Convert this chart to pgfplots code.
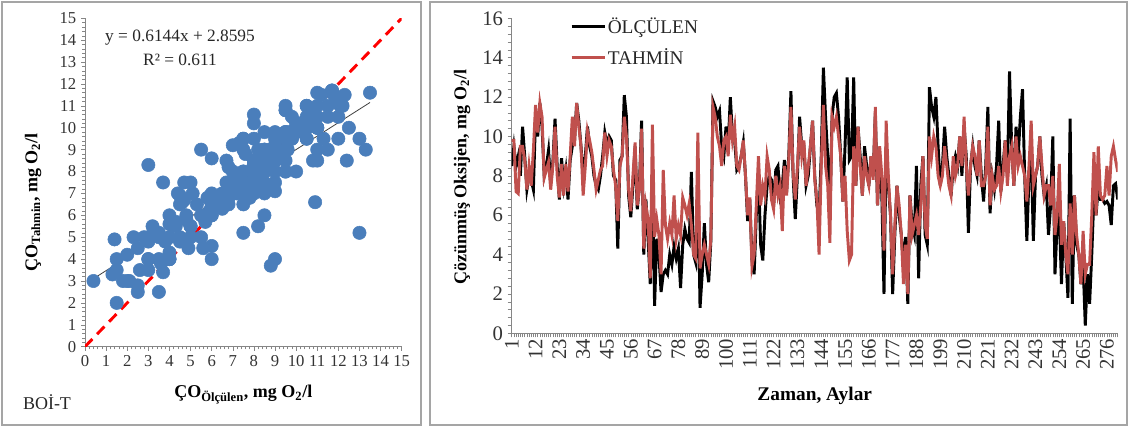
\documentclass[border=0pt]{standalone}
\usepackage{fontspec}
\setmainfont{Liberation Serif}
\usepackage{pgfplots}
\usepackage{pgfplotstable}
\pgfplotsset{compat=1.18}
\definecolor{ptblue}{RGB}{74,126,187}
\definecolor{tred}{RGB}{192,80,77}
\definecolor{axgray}{RGB}{134,134,134}
\definecolor{framegray}{RGB}{165,165,165}
\pgfkeys{/pgf/number format/assume math mode=true}

\pgfplotstableread{
m obs pred
1 8.5 9.8
2 9.5 9.8
3 8.5 7.2
4 9.0 7.1
5 8.0 9.5
6 10.5 9.5
7 9.0 8.8
8 7.3 7.3
9 8.0 8.5
10 7.8 7.5
11 7.3 9.3
12 11.0 11.6
13 10.0 10.2
14 11.7 11.7
15 10.5 11.0
16 8.0 7.9
17 8.5 8.3
18 9.3 8.7
19 7.6 7.3
20 8.7 8.5
21 10.9 10.5
22 8.5 8.0
23 6.8 6.9
24 8.9 8.6
25 7.5 7.0
26 8.3 8.6
27 6.8 7.2
28 8.8 9.0
29 9.5 11.0
30 9.8 9.5
31 11.7 11.7
32 10.8 10.5
33 9.5 9.5
34 8.0 7.0
35 9.0 8.5
36 10.5 10.3
37 9.5 9.8
38 9.0 9.2
39 8.0 8.3
40 7.5 7.3
41 7.3 7.8
42 8.0 8.3
43 9.0 8.5
44 10.2 10.2
45 9.6 9.0
46 10.0 9.8
47 9.8 9.5
48 8.0 8.3
49 7.8 7.5
50 4.3 5.7
51 8.8 8.5
52 9.0 9.0
53 12.1 11.0
54 11.0 10.0
55 7.0 7.3
56 5.9 6.2
57 7.5 8.0
58 9.5 9.7
59 6.3 6.5
60 7.5 7.3
61 10.8 10.4
62 4.0 4.3
63 6.8 6.5
64 4.8 5.8
65 2.5 2.8
66 8.0 10.6
67 1.4 4.9
68 4.8 5.8
69 4.0 5.0
70 2.1 3.0
71 3.0 8.3
72 3.2 5.5
73 3.0 4.8
74 4.0 5.6
75 3.5 5.0
76 4.4 7.0
77 3.8 4.8
78 4.3 5.5
79 2.3 5.0
80 4.5 6.9
81 5.3 6.5
82 4.8 6.0
83 4.6 6.6
84 8.2 5.5
85 4.0 4.0
86 3.6 3.8
87 8.0 10.2
88 1.3 3.3
89 3.0 4.0
90 5.6 4.5
91 3.5 4.0
92 2.6 3.5
93 4.7 4.8
94 11.8 11.5
95 11.5 11.0
96 11.0 10.0
97 11.3 9.5
98 9.5 8.5
99 9.0 9.8
100 10.5 10.0
101 9.5 9.0
102 12.0 11.1
103 10.0 9.8
104 9.8 10.5
105 8.3 8.5
106 8.5 8.3
107 9.0 9.0
108 9.7 9.8
109 8.0 8.0
110 5.7 6.0
111 6.8 6.9
112 3.7 3.4
113 3.0 4.0
114 6.0 6.5
115 8.2 9.0
116 4.5 6.5
117 3.7 7.5
118 6.0 7.0
119 7.5 9.0
120 8.0 8.3
121 7.8 6.8
122 6.5 6.3
123 8.3 8.0
124 8.5 7.0
125 7.0 7.5
126 7.5 5.2
127 8.8 8.5
128 7.2 7.0
129 9.0 8.8
130 12.3 11.5
131 8.0 8.2
132 5.8 6.8
133 8.0 8.5
134 11.0 10.5
135 9.5 9.0
136 9.5 9.8
137 7.5 7.5
138 8.0 8.5
139 9.5 9.5
140 10.8 10.8
141 8.0 7.8
142 6.5 6.8
143 6.0 4.0
144 9.0 8.5
145 13.5 11.6
146 11.0 8.5
147 9.0 7.5
148 6.0 4.6
149 11.0 11.0
150 12.0 10.5
151 12.2 11.0
152 11.0 10.0
153 9.0 9.0
154 6.7 6.7
155 9.5 8.0
156 13.0 5.2
157 8.8 3.7
158 9.0 4.0
159 13.0 9.5
160 7.5 7.5
161 10.5 10.5
162 9.0 8.5
163 7.0 7.0
164 9.5 9.0
165 8.5 8.0
166 7.5 7.5
167 9.0 9.0
168 8.0 7.8
169 11.2 11.5
170 6.5 6.5
171 9.0 9.5
172 7.0 8.0
173 2.0 4.2
174 9.5 10.8
175 7.5 8.0
176 6.0 6.0
177 2.0 3.0
178 5.0 5.5
179 7.5 7.5
180 6.0 6.5
181 5.0 5.0
182 3.5 2.5
183 4.9 4.5
184 1.5 2.0
185 7.0 7.0
186 5.5 5.0
187 5.0 5.5
188 8.5 6.0
189 2.8 5.0
190 7.5 6.5
191 9.0 9.0
192 5.0 5.5
193 4.5 4.8
194 12.5 10.0
195 11.5 9.0
196 11.0 10.0
197 12.0 9.5
198 9.5 8.0
199 7.5 7.5
200 8.5 8.0
201 10.5 9.5
202 9.0 8.5
203 8.0 7.5
204 7.0 7.0
205 8.5 9.0
206 9.0 8.0
207 8.5 8.5
208 10.0 10.0
209 8.0 8.5
210 10.5 11.0
211 9.0 8.5
212 5.1 7.0
213 8.5 8.5
214 9.5 9.5
215 8.5 9.0
216 8.0 8.0
217 9.8 9.8
218 8.0 7.5
219 6.7 7.5
220 8.5 8.0
221 11.5 10.5
222 6.1 6.5
223 8.0 8.0
224 7.3 7.3
225 8.5 7.5
226 10.8 8.5
227 7.2 7.2
228 8.5 8.0
229 9.8 9.8
230 8.0 7.5
231 13.3 9.0
232 9.5 9.5
233 7.5 7.5
234 10.5 10.0
235 9.0 8.5
236 11.0 9.0
237 12.4 8.5
238 8.0 8.0
239 4.7 6.7
240 8.0 8.5
241 9.5 10.8
242 4.7 7.5
243 8.0 8.0
244 8.5 8.5
245 10.0 10.0
246 8.0 8.5
247 7.0 7.0
248 7.5 7.5
249 5.0 7.5
250 6.5 6.5
251 10.0 8.0
252 3.0 5.0
253 5.5 6.0
254 6.0 8.6
255 2.5 4.5
256 5.7 5.7
257 4.0 4.0
258 1.8 3.0
259 10.9 6.6
260 1.5 4.0
261 7.0 7.0
262 4.5 5.0
263 4.0 4.0
264 2.5 2.5
265 3.5 5.2
266 0.4 3.0
267 3.0 3.5
268 1.5 3.5
269 4.0 6.0
270 7.0 9.2
271 6.0 6.0
272 7.5 9.5
273 6.8 7.0
274 6.8 6.8
275 6.6 7.0
276 6.7 8.5
277 6.5 7.0
278 5.5 9.0
279 7.5 9.5
280 7.6 8.8
281 6.8 8.2
}\dotable

\begin{document}
\begin{tikzpicture}
\path[use as bounding box] (0pt,0pt) rectangle (847.5pt,-322.5pt);
\draw[framegray, line width=0.9pt] (1.5pt,-1.5pt) rectangle (315.75pt,-318.75pt);
\draw[framegray, line width=0.9pt] (322.5pt,-1.5pt) rectangle (845.25pt,-318.75pt);

% ---------------- left: scatter ----------------
\begin{axis}[
  at={(63.75pt,-260pt)}, anchor=south west,
  scale only axis, width=237.5pt, height=246.3pt,
  xmin=0, xmax=15, ymin=0, ymax=15,
  xtick distance=1, ytick distance=1,
  minor x tick num=4, minor y tick num=4,
  axis lines*=left,
  axis line style={axgray, line width=0.6pt},
  tick style={axgray, line width=0.4pt},
  tick align=outside,
  major tick length=3pt, minor tick length=2pt,
  ticklabel style={font=\fontsize{12.5}{14}\selectfont, text=black!80},
  xticklabel style={inner xsep=0pt},
  xlabel={\bfseries ÇO\textsubscript{Ölçülen}, mg O\textsubscript{2}/l},
  ylabel={\bfseries ÇO\textsubscript{Tahmin}, mg O\textsubscript{2}/l},
  xlabel style={font=\fontsize{13.5}{15}\selectfont, at={(axis description cs:0.5,-0.146)}, anchor=center},
  ylabel style={font=\fontsize{13.5}{15}\selectfont, at={(axis description cs:-0.164,0.44)}, anchor=center},
]
\addplot[red, line width=2.2pt, dash pattern=on 8pt off 5pt] coordinates {(0,0) (15,15)};
\addplot[only marks, mark=*, mark size=5pt, mark options={fill=ptblue, draw=ptblue}] table[x=obs, y=pred] {\dotable};
\addplot[black!75, line width=0.6pt] coordinates {(0.3,3.044) (13.5,11.154)};
\end{axis}
\node[font=\fontsize{13}{15}\selectfont, text=black!85] at (135pt,-28.5pt) {y = 0.6144x + 2.8595};
\node[font=\fontsize{13}{15}\selectfont, text=black!85] at (135pt,-45pt) {R² = 0.611};
\node[font=\fontsize{13.5}{15}\selectfont, text=black!85] at (35.25pt,-301.5pt) {BOİ-T};

% ---------------- right: time series ----------------
\begin{axis}[
  at={(383.8pt,-250pt)}, anchor=south west,
  scale only axis, width=454.5pt, height=236.25pt,
  xmin=1, xmax=281, ymin=0, ymax=16,
  ytick distance=2, minor y tick num=4,
  xtick={1,12,...,276}, minor xtick={1,...,281},
  axis lines*=left,
  axis line style={axgray, line width=0.6pt},
  tick style={axgray, line width=0.4pt},
  tick align=outside,
  major tick length=3pt, minor tick length=3pt,
  ticklabel style={font=\fontsize{15.5}{17}\selectfont, text=black!80},
  x tick label style={rotate=90, anchor=east, inner xsep=1pt},
  xlabel={\bfseries Zaman, Aylar},
  ylabel={\bfseries Çözünmüş Oksijen, mg O\textsubscript{2}/l},
  xlabel style={font=\fontsize{14.5}{16}\selectfont, at={(axis description cs:0.5,-0.197)}, anchor=center},
  ylabel style={font=\fontsize{13.5}{15}\selectfont, at={(axis description cs:-0.082,0.496)}, anchor=center},
  legend style={at={(0.096,1.012)}, anchor=north west, draw=none, fill=none,
    font=\fontsize{14.5}{16}\selectfont, row sep=6pt, inner xsep=0pt, inner ysep=0pt,
    nodes={inner xsep=1pt, text=black!85}},
  legend cell align=left,
  legend image code/.code={\draw[#1] (0pt,0pt) -- (25pt,0pt);},
]
\addplot[black, line width=2.2pt] table[x=m, y=obs] {\dotable};
\addlegendentry{ÖLÇÜLEN}
\addplot[tred, line width=2.2pt] table[x=m, y=pred] {\dotable};
\addlegendentry{TAHMİN}
\end{axis}
\end{tikzpicture}
\end{document}
